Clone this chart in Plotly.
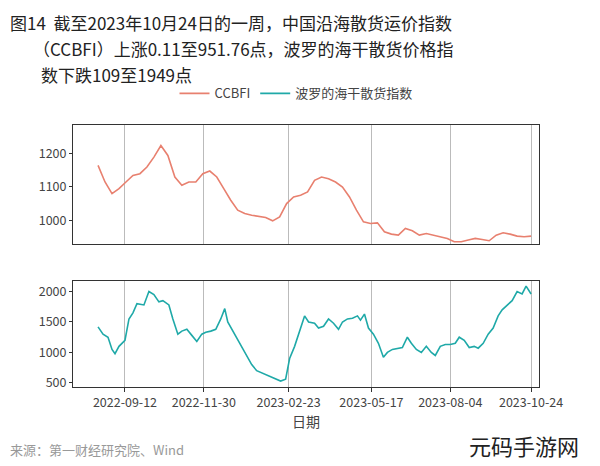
import pandas as pd
import plotly.graph_objects as go
from plotly.subplots import make_subplots

# CCBFI hebdomadaire
ccbfi_start = "2022-08-16"
ccbfi = [1165, 1115, 1080, 1095, 1115, 1135, 1140, 1160, 1190, 1225, 1195, 1130, 1105, 1115, 1115,
         1140, 1148, 1130, 1095, 1060, 1030, 1020, 1015, 1012, 1008, 998, 1010, 1050, 1070, 1075,
         1085, 1120, 1130, 1125, 1115, 1100, 1070, 1030, 995, 990, 992, 965, 958, 955, 975, 968,
         955, 960, 955, 950, 945, 935, 935, 940, 945, 942, 938, 955, 962, 958, 952, 950, 952]

# BDI : jours depuis 2022-09-12
bdi_base = "2022-09-12"
bdi_days = [-27, -22, -17, -13, -10, -6, 0, 4, 8, 12, 19, 24, 29, 34, 38, 44, 48, 53, 57, 62, 67, 72,
            77, 81, 86, 91, 96, 100, 103, 108, 115, 122, 127, 132, 139, 146, 151, 156, 161, 165, 170,
            174, 180, 184, 190, 194, 199, 204, 209, 214, 218, 223, 228, 233, 236, 240, 244, 249, 254,
            259, 263, 268, 273, 278, 283, 287, 292, 297, 302, 307, 311, 316, 321, 326, 331, 335, 340,
            345, 350, 354, 359, 364, 369, 374, 378, 383, 388, 393, 398, 402, 407]
bdi = [1420, 1300, 1250, 1050, 980, 1100, 1200, 1550, 1650, 1800, 1780, 2000, 1950, 1830, 1850, 1780,
       1550, 1300, 1350, 1380, 1280, 1180, 1300, 1330, 1350, 1380, 1550, 1720, 1500, 1350, 1150, 950,
       800, 700, 650, 600, 560, 530, 560, 900, 1100, 1300, 1600, 1500, 1480, 1400, 1430, 1550, 1480,
       1380, 1500, 1550, 1560, 1600, 1530, 1630, 1400, 1300, 1150, 920, 1000, 1050, 1060, 1080, 1250,
       1150, 1050, 1000, 1100, 1000, 950, 1100, 1130, 1130, 1150, 1250, 1200, 1080, 1100, 1070, 1150,
       1300, 1400, 1600, 1700, 1780, 1850, 2000, 1960, 2090, 1960]

tick_dates = ["2022-09-12", "2022-11-30", "2023-02-23", "2023-05-17", "2023-08-04", "2023-10-24"]

title_lines = ["图14  截至2023年10月24日的一周，中国沿海散货运价指数",
               "（CCBFI）上涨0.11至951.76点，波罗的海干散货价格指",
               "数下跌109至1949点"]

ccbfi_dates = pd.date_range(ccbfi_start, periods=len(ccbfi), freq="7D")
bdi_dates = pd.Timestamp(bdi_base) + pd.to_timedelta(bdi_days, unit="D")

red = "#E8806F"
teal = "#1FA9A8"

fig = make_subplots(rows=2, cols=1, shared_xaxes=True)
fig.add_trace(go.Scatter(x=ccbfi_dates, y=ccbfi, mode="lines", name="CCBFI",
                         line=dict(color=red, width=1.6)), row=1, col=1)
fig.add_trace(go.Scatter(x=bdi_dates, y=bdi, mode="lines", name="波罗的海干散货指数",
                         line=dict(color=teal, width=1.6)), row=2, col=1)

xr = ["2022-07-22", "2023-11-01"]
axis_common = dict(showline=True, mirror=True, linecolor="#333", linewidth=1.2,
                   tickfont=dict(size=12.5, color="#444"))
fig.update_xaxes(range=xr, tickvals=tick_dates, ticktext=tick_dates, showgrid=True, gridcolor="#bbb",
                 domain=[0.113, 0.922], **axis_common)
fig.update_xaxes(showticklabels=False, ticks="", row=1, col=1)
fig.update_xaxes(ticks="outside", ticklen=4, tickcolor="#333",
                 title=dict(text="日期", font=dict(size=14, color="#444"), standoff=2), row=2, col=1)
fig.update_yaxes(showgrid=False, ticks="outside", ticklen=3, tickcolor="#333", **axis_common)
fig.update_yaxes(range=[928, 1287], tickvals=[1000, 1100, 1200], domain=[0.489, 0.747], row=1, col=1)
fig.update_yaxes(range=[435, 2180], tickvals=[500, 1000, 1500, 2000], domain=[0.180, 0.410], row=2, col=1)

annots = []
for i, (txt, xpos) in enumerate(zip(title_lines, [0.0, 0.04, 0.053])):
    annots.append(dict(text=txt, xref="paper", yref="paper", x=xpos, y=1 - (15 + 26 * i) / 466,
                       xanchor="left", yanchor="middle", showarrow=False,
                       font=dict(size=17, color="#222")))
annots += [
    dict(text="来源：第一财经研究院、Wind", xref="paper", yref="paper", x=0.0, y=0.045,
         xanchor="left", yanchor="middle", showarrow=False, font=dict(size=13, color="#999")),
    dict(text="元码手游网", xref="paper", yref="paper", x=0.995, y=0.015,
         xanchor="right", yanchor="bottom", showarrow=False, font=dict(size=22, color="#222")),
]

fig.update_layout(
    width=600, height=466, margin=dict(l=0, r=0, t=0, b=0),
    paper_bgcolor="white", plot_bgcolor="white",
    font=dict(family="Noto Sans CJK SC, Arial", color="#222"),
    legend=dict(orientation="h", x=0.5, xanchor="center", y=0.815, yanchor="middle",
                font=dict(size=13, color="#444")),
    annotations=annots,
)

fig.write_html("out.html")
